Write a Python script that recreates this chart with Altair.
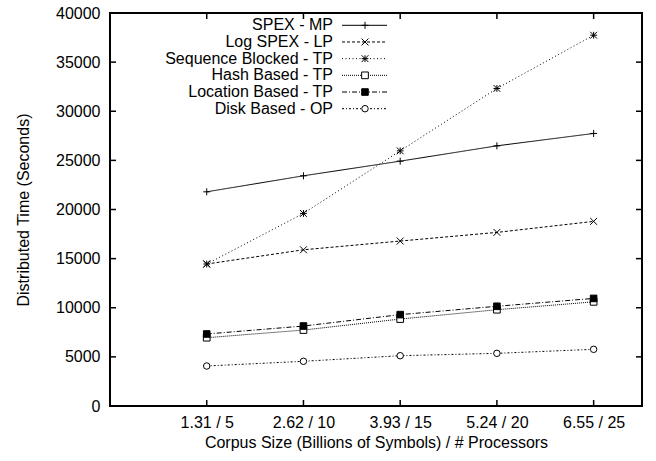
import json
import altair as alt
import pandas as pd

# ---------------- data ----------------
x_labels = ["1.31 / 5", "2.62 / 10", "3.93 / 15", "5.24 / 20", "6.55 / 25"]
x_pos = [1, 2, 3, 4, 5]
series_names = ["SPEX - MP", "Log SPEX - LP", "Sequence Blocked - TP",
                "Hash Based - TP", "Location Based - TP", "Disk Based - OP"]
spex_mp = [21800, 23430, 24920, 26480, 27740]
log_spex_lp = [14450, 15900, 16790, 17670, 18790]
seq_blocked_tp = [14450, 19600, 25970, 32320, 37740]
hash_tp = [6950, 7730, 8850, 9800, 10600]
location_tp = [7330, 8140, 9300, 10150, 10950]
disk_op = [4070, 4550, 5120, 5360, 5770]
y_ticks = [0, 5000, 10000, 15000, 20000, 25000, 30000, 35000, 40000]

all_series = [spex_mp, log_spex_lp, seq_blocked_tp, hash_tp, location_tp, disk_op]

rows = []
for name, vals in zip(series_names, all_series):
    for xp, v in zip(x_pos, vals):
        rows.append({"series": name, "x": xp, "y": v})
df = pd.DataFrame(rows)

leg_df = pd.DataFrame({"series": series_names, "row": list(range(len(series_names)))})
yt_df = pd.DataFrame({"y": y_ticks})
xt_df = pd.DataFrame({"x": x_pos})

# ---------------- styles ----------------
FONT = "Liberation Sans"
W, H = 532, 393

plus = "M-1,0L1,0M0,-1L0,1"
xmark = "M-1,-1L1,1M-1,1L1,-1"
star = plus + xmark

dash_range = [[1, 0], [3, 2], [1, 2.5], [1, 1], [5, 2, 1, 2], [2, 2, 1, 2]]
shape_range = [plus, xmark, star, "square", "square", "circle"]
fill_range = ["transparent", "transparent", "transparent", "white", "black", "white"]
size_range = [49, 42, 49, 25, 25, 26]

xscale = alt.Scale(domain=[0, 5.5], nice=False, zero=False)
yscale = alt.Scale(domain=[0, 40000], nice=False)

dash_enc = alt.StrokeDash("series:N", scale=alt.Scale(domain=series_names, range=dash_range), legend=None)
shape_enc = alt.Shape("series:N", scale=alt.Scale(domain=series_names, range=shape_range), legend=None)
fill_enc = alt.Fill("series:N", scale=alt.Scale(domain=series_names, range=fill_range), legend=None)
size_enc = alt.Size("series:N", scale=alt.Scale(domain=series_names, range=size_range), legend=None)

label_expr = "[''," + ",".join(json.dumps(l) for l in x_labels) + "][datum.value]"

x_axis = alt.Axis(values=x_pos, labelExpr=label_expr,
                  title="Corpus Size (Billions of Symbols) / # Processors",
                  labelPadding=8, titlePadding=4)
y_axis = alt.Axis(values=y_ticks, format="d", title="Distributed Time (Seconds)",
                  labelPadding=10, titlePadding=24)
x_enc = alt.X("x:Q", scale=xscale, axis=x_axis)
y_enc = alt.Y("y:Q", scale=yscale, axis=y_axis)

base = alt.Chart(df)
lines = base.mark_line(color="black", strokeWidth=1).encode(
    x=x_enc, y=y_enc, strokeDash=dash_enc, detail="series:N")
points = base.mark_point(filled=True, strokeWidth=1, opacity=1).encode(
    x=x_enc, y=y_enc,
    shape=shape_enc, fill=fill_enc, size=size_enc,
    stroke=alt.value("black"))

# inward ticks on all four sides
tick_style = dict(color="black", strokeWidth=1.5)
yt_left = alt.Chart(yt_df).mark_rule(**tick_style).encode(
    y=y_enc, x=alt.value(0), x2=alt.value(6))
yt_right = alt.Chart(yt_df).mark_rule(**tick_style).encode(
    y=y_enc, x=alt.value(W), x2=alt.value(W - 6))
xt_bottom = alt.Chart(xt_df).mark_rule(**tick_style).encode(
    x=x_enc, y=alt.value(H), y2=alt.value(H - 6))
xt_top = alt.Chart(xt_df).mark_rule(**tick_style).encode(
    x=x_enc, y=alt.value(0), y2=alt.value(6))

main = alt.layer(lines, points, yt_left, yt_right, xt_bottom, xt_top)

# manual legend (label left of sample, like gnuplot)
leg_y = alt.Y("row:Q", scale=alt.Scale(domain=[0, 5], range=[12.3, 95.7]), axis=None)
leg_base = alt.Chart(leg_df)
leg_text = leg_base.mark_text(align="right", baseline="middle", font=FONT,
                              fontSize=16, color="black").encode(
    x=alt.value(223), y=leg_y, text="series:N")
leg_line = leg_base.mark_rule(color="black", strokeWidth=1).encode(
    x=alt.value(232), x2=alt.value(277), y=leg_y, strokeDash=dash_enc)
leg_pts = leg_base.mark_point(filled=True, strokeWidth=1, opacity=1).encode(
    x=alt.value(255), y=leg_y, shape=shape_enc, fill=fill_enc, size=size_enc,
    stroke=alt.value("black"))
legend = alt.layer(leg_text, leg_line, leg_pts)

chart = alt.layer(main, legend).resolve_scale(y="independent").properties(
    width=W, height=H,
    autosize=alt.AutoSizeParams(type="none"),
    padding={"left": 110, "top": 13, "right": 14, "bottom": 55},
    background="white",
).configure_view(
    stroke="black", strokeWidth=2
).configure_axis(
    domain=False, ticks=False, grid=False,
    labelFont=FONT, labelFontSize=16, labelColor="black",
    titleFont=FONT, titleFontSize=16, titleFontWeight="normal", titleColor="black",
)

chart.save("out.html", embed_options={"renderer": "svg", "actions": False})
